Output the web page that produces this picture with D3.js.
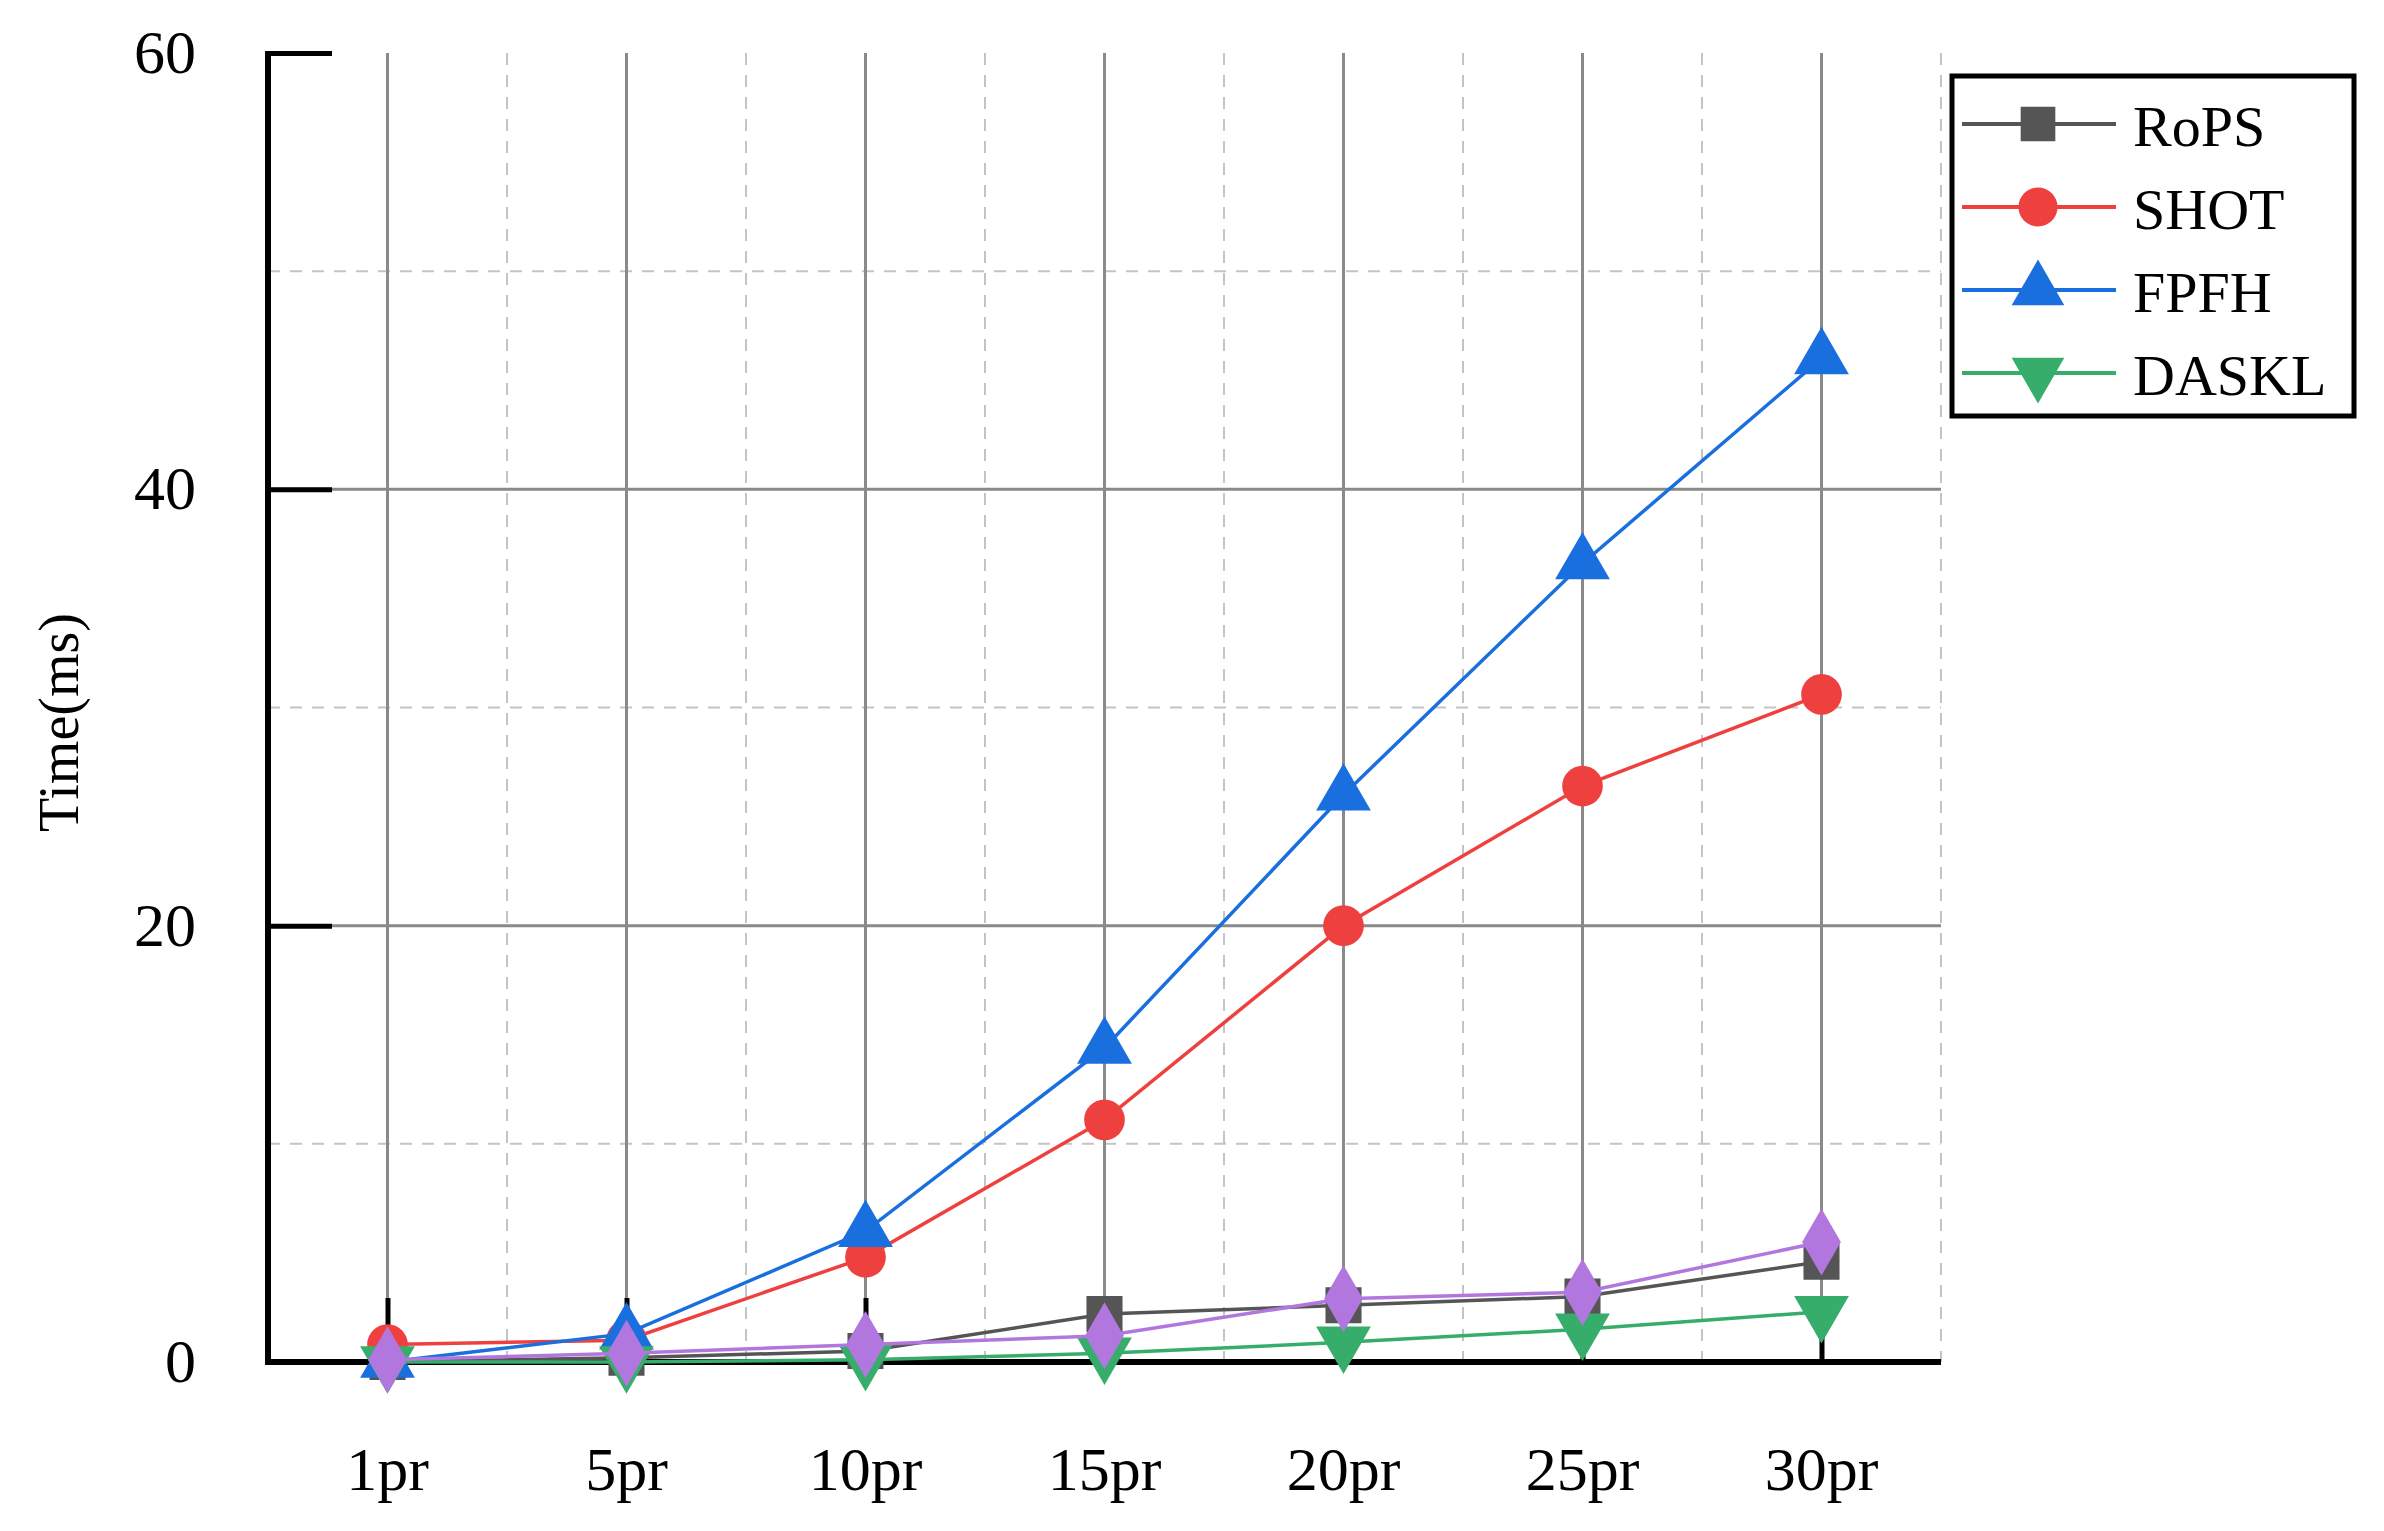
<!DOCTYPE html>
<html><head><meta charset="utf-8">
<script src="https://cdn.jsdelivr.net/npm/d3@7"></script>
<style>body{margin:0;background:#fff}</style>
</head><body>
<svg id="c" width="2384" height="1531"></svg>
<script>
const categories = ["1pr","5pr","10pr","15pr","20pr","25pr","30pr"];
const rops  = [0, 0.2, 0.5, 2.2, 2.6, 3.0, 4.6];
const shot  = [0.8, 1.0, 4.8, 11.1, 20.0, 26.4, 30.6];
const fpfh  = [0, 1.3, 6.0, 14.4, 26.0, 36.6, 46.0];
const daskl = [0, 0, 0.1, 0.4, 0.9, 1.5, 2.3];
const other = [0.1, 0.4, 0.8, 1.2, 2.9, 3.2, 5.5];
const yTicks = [0, 20, 40, 60];

const series = [
  {name:"RoPS", values:rops, color:"#555555", sym:d3.symbolSquare, legend:true},
  {name:"SHOT", values:shot, color:"#ef4040", sym:d3.symbolCircle, legend:true},
  {name:"FPFH", values:fpfh, color:"#1a6fdf", sym:d3.symbolTriangle, legend:true},
  {name:"DASKL", values:daskl, color:"#37ad6b", sym:"down", legend:true},
  {name:"", values:other, color:"#b177de", sym:d3.symbolDiamond, legend:false}
];

const L=268, R=1941, T=53, B=1362;
const svg = d3.select("#c");
const font = "'Liberation Serif', 'Times New Roman', serif";
const x = d3.scalePoint().domain(categories).range([L, R]).padding(0.5);
const y = d3.scaleLinear().domain([0, 60]).range([B, T]);
const step = x.step();

// grid
const g = svg.append("g");
[10,30,50].forEach(v => g.append("line").attr("x1",L).attr("x2",R).attr("y1",y(v)).attr("y2",y(v))
  .attr("stroke","#c4c4c4").attr("stroke-width",2).attr("stroke-dasharray","12,10"));
[20,40].forEach(v => g.append("line").attr("x1",L).attr("x2",R).attr("y1",y(v)).attr("y2",y(v))
  .attr("stroke","#8a8a8a").attr("stroke-width",3));
categories.forEach((c,i) => {
  g.append("line").attr("x1",x(c)).attr("x2",x(c)).attr("y1",T).attr("y2",B)
    .attr("stroke","#8a8a8a").attr("stroke-width",3);
  g.append("line").attr("x1",x(c)+step/2).attr("x2",x(c)+step/2).attr("y1",T).attr("y2",B)
    .attr("stroke","#c4c4c4").attr("stroke-width",2).attr("stroke-dasharray","12,10");
});

// axes
const yAxis = d3.axisRight(y).tickValues(yTicks).tickSize(64).tickFormat("");
const ya = svg.append("g").attr("transform",`translate(${L},0)`).call(yAxis);
ya.select(".domain").remove();
ya.selectAll("line").attr("stroke","#000").attr("stroke-width",5);
yTicks.forEach(v => svg.append("text").attr("x",L-72).attr("y",y(v)+20).attr("text-anchor","end")
  .attr("font-family",font).attr("font-size",62).text(v));
const xAxis = d3.axisTop(x).tickSize(64).tickFormat("");
const xa = svg.append("g").attr("transform",`translate(0,${B})`).call(xAxis);
xa.select(".domain").remove();
xa.selectAll("line").attr("stroke","#000").attr("stroke-width",5);
categories.forEach(c => svg.append("text").attr("x",x(c)).attr("y",1490).attr("text-anchor","middle")
  .attr("font-family",font).attr("font-size",62).text(c));
svg.append("line").attr("x1",L).attr("x2",L).attr("y1",T-2).attr("y2",B+3).attr("stroke","#000").attr("stroke-width",6);
svg.append("line").attr("x1",L-3).attr("x2",R).attr("y1",B).attr("y2",B).attr("stroke","#000").attr("stroke-width",6);
svg.append("text").attr("transform",`translate(78,${(T+B)/2+15}) rotate(-90)`).attr("text-anchor","middle")
  .attr("font-family",font).attr("font-size",56).text("Time(ms)");

function marker(sel, s, size) {
  if (s.sym === "down") sel.attr("d", d3.symbol(d3.symbolTriangle, size)()).attr("transform", sel.attr("transform") + " rotate(180)");
  else sel.attr("d", d3.symbol(s.sym, size)());
}
const line = d3.line().x((d,i)=>x(categories[i])).y(d=>y(d));
series.forEach(s => {
  svg.append("path").attr("d", line(s.values)).attr("fill","none").attr("stroke",s.color).attr("stroke-width",3.5);
  s.values.forEach((v,i) => {
    const p = svg.append("path").attr("fill",s.color).attr("transform",`translate(${x(categories[i])},${y(v)})`);
    marker(p, s, 1300);
  });
});

// legend
const lg = svg.append("g");
lg.append("rect").attr("x",1952).attr("y",76).attr("width",402).attr("height",340)
  .attr("fill","#fff").attr("stroke","#000").attr("stroke-width",5);
series.filter(s=>s.legend).forEach((s,i) => {
  const yy = 124 + i*83;
  lg.append("line").attr("x1",1962).attr("x2",2116).attr("y1",yy).attr("y2",yy).attr("stroke",s.color).attr("stroke-width",4);
  const p = lg.append("path").attr("fill",s.color).attr("transform",`translate(2038,${yy})`);
  marker(p, s, 1200);
  lg.append("text").attr("x",2133).attr("y",yy+22).attr("font-family",font).attr("font-size",58).text(s.name);
});
</script>
</body></html>
